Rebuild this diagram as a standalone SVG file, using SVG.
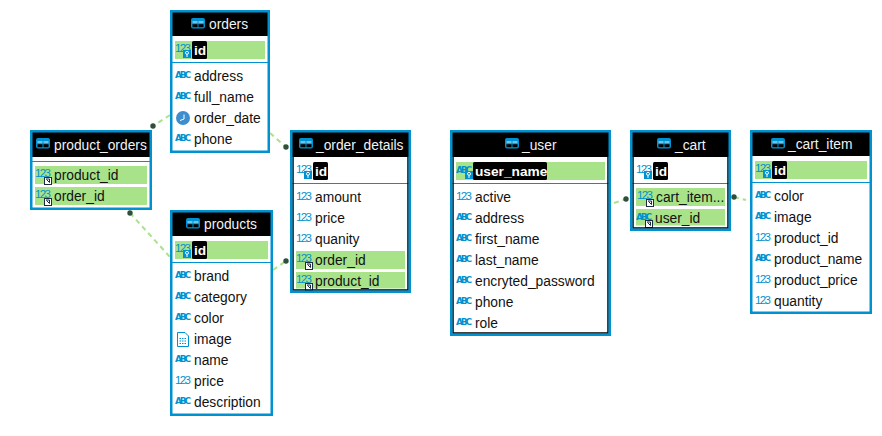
<svg xmlns="http://www.w3.org/2000/svg" width="882" height="436" viewBox="0 0 882 436">
<style>
text{font-family:"Liberation Sans",Arial,sans-serif;font-size:13.8px;fill:#111}
.bg{fill:#fff}
.hd{fill:#000}
.fr{fill:none;stroke:#0091d0;stroke-width:2.500}
.in{fill:none;stroke:#000;stroke-width:1.500}
.sep{stroke:#0091d0;stroke-width:1;fill:none}
.hl{fill:#a8e38a}
.chip{fill:#000}
.t{fill:#f2f2f2}
.k{fill:#fff;font-weight:bold;font-size:13.7px}
.n{fill:#0091d0;font-size:11.500px}
.a{fill:#0091d0;font-size:9px;font-weight:bold;font-family:"DejaVu Sans",sans-serif}
.cn{fill:none;stroke:#a8e38a;stroke-width:2;stroke-dasharray:5 4}
.dot{fill:#2f4f3a}
</style>
<defs>
<g id="tbl"><rect x="0" y="0" width="14" height="10.500" rx="2" fill="#0091d0"/><rect x="1.500" y="3" width="5" height="2.200" fill="#6cc4ea"/><rect x="7.500" y="3" width="5" height="2.200" fill="#6cc4ea"/><rect x="1.500" y="6.200" width="5" height="3" fill="#000"/><rect x="7.500" y="6.200" width="5" height="3" fill="#000"/></g>
<g id="pk"><rect x="0" y="0" width="8" height="8" fill="#0091d0"/><circle cx="4" cy="2.800" r="1.500" fill="none" stroke="#fff"/><path d="M4 4.300V7" stroke="#fff" fill="none"/></g>
<g id="fk"><rect x="0.500" y="0.500" width="7" height="7" fill="#fff" stroke="#1c2a44"/><path d="M2 2H5.500V5.500M5.500 5.500L2.500 2.500" fill="none" stroke="#1c2a44"/></g>
<g id="clock"><circle cx="7" cy="7" r="7" fill="#3d8ecf"/><path d="M8 3.500V8L4 9.500" fill="none" stroke="#fff"/></g>
<g id="file"><path d="M.5 .5H8L11.500 4V14.500H.5Z" fill="#fff" stroke="#0091d0"/><path d="M2.500 6.500h7M2.500 9h7M2.500 11.500h7" stroke="#0091d0" stroke-dasharray="1.500 1" fill="none"/></g>
</defs>

<g id="connectors">
<path class="cn" d="M170 115L153 126"/>
<path class="cn" d="M270 133L286 147"/>
<path class="cn" d="M130 213L170 257"/>
<path class="cn" d="M273 270L286 261"/>
<path class="cn" d="M614 203L626 199"/>
<path class="cn" d="M734 197L746 200"/>
<circle class="dot" cx="153" cy="126" r="2.700"/>
<circle class="dot" cx="286" cy="147" r="2.700"/>
<circle class="dot" cx="130" cy="213" r="2.700"/>
<circle class="dot" cx="286" cy="261" r="2.700"/>
<circle class="dot" cx="626" cy="199" r="2.700"/>
<circle class="dot" cx="734" cy="197" r="2.700"/>
</g>

<g id="orders">
<rect class="bg" x="170" y="10" width="100" height="143"/>
<rect class="hd" x="171" y="11" width="98" height="25"/>
<use href="#tbl" x="191" y="18"/>
<text class="t" x="209" y="29">orders</text>
<rect class="hl" x="175" y="41" width="90" height="18"/>
<text class="n" x="175" y="52" textLength="16">123</text>
<use href="#pk" x="183" y="50"/>
<rect class="chip" x="192" y="41" width="15" height="18" rx="1.500"/>
<text class="k" x="194" y="55">id</text>
<path class="sep" d="M171 62.500H269"/>
<text class="a" x="175" y="78" textLength="16">ABC</text><text x="194" y="81">address</text>
<text class="a" x="175" y="99" textLength="16">ABC</text><text x="194" y="102">full_name</text>
<use href="#clock" x="176" y="111"/><text x="194" y="123">order_date</text>
<text class="a" x="175" y="141" textLength="16">ABC</text><text x="194" y="144">phone</text>
<rect class="fr" x="171.250" y="11.250" width="97.500" height="140.500"/>
</g>

<g id="product_orders">
<rect class="bg" x="30" y="130" width="122" height="80"/>
<rect class="hd" x="31" y="131" width="120" height="26"/>
<use href="#tbl" x="36" y="138"/>
<text class="t" x="54" y="150">product_orders</text>
<path class="sep" d="M31 161.500H151"/>
<rect class="hl" x="35" y="166" width="112" height="18"/>
<text class="n" x="35" y="177" textLength="16">123</text>
<use href="#fk" x="44" y="177"/>
<text x="54" y="180">product_id</text>
<rect class="hl" x="35" y="187" width="112" height="18"/>
<text class="n" x="35" y="198" textLength="16">123</text>
<use href="#fk" x="44" y="198"/>
<text x="54" y="201">order_id</text>
<rect class="fr" x="31.250" y="131.250" width="119.500" height="77.500"/>
</g>

<g id="products">
<rect class="bg" x="170" y="210" width="103" height="206"/>
<rect class="hd" x="171" y="211" width="101" height="25"/>
<use href="#tbl" x="186" y="218"/>
<text class="t" x="204" y="229">products</text>
<rect class="hl" x="175" y="241" width="93" height="18"/>
<text class="n" x="175" y="252" textLength="16">123</text>
<use href="#pk" x="183" y="250"/>
<rect class="chip" x="192" y="241" width="15" height="18" rx="1.500"/>
<text class="k" x="194" y="255">id</text>
<path class="sep" d="M171 262.500H272"/>
<text class="a" x="175" y="278" textLength="16">ABC</text><text x="194" y="281">brand</text>
<text class="a" x="175" y="299" textLength="16">ABC</text><text x="194" y="302">category</text>
<text class="a" x="175" y="320" textLength="16">ABC</text><text x="194" y="323">color</text>
<use href="#file" x="177" y="332"/><text x="194" y="344">image</text>
<text class="a" x="175" y="362" textLength="16">ABC</text><text x="194" y="365">name</text>
<text class="n" x="175" y="384" textLength="16">123</text><text x="194" y="386">price</text>
<text class="a" x="175" y="404" textLength="16">ABC</text><text x="194" y="407">description</text>
<rect class="fr" x="171.250" y="211.250" width="100.500" height="203.500"/>
</g>

<g id="_order_details">
<rect class="bg" x="290" y="130" width="121" height="163"/>
<rect class="hd" x="291" y="131" width="119" height="26"/>
<use href="#tbl" x="299" y="138"/>
<text class="t" x="316" y="150">_order_details</text>
<text class="n" x="296" y="173" textLength="16">123</text>
<use href="#pk" x="304" y="171"/>
<rect class="chip" x="313" y="162" width="15" height="18" rx="1.500"/>
<text class="k" x="315" y="176">id</text>
<path class="sep" d="M292 183.500H409"/>
<text class="n" x="296" y="200" textLength="16">123</text><text x="315" y="202">amount</text>
<text class="n" x="296" y="221" textLength="16">123</text><text x="315" y="223">price</text>
<text class="n" x="296" y="242" textLength="16">123</text><text x="315" y="244">quanity</text>
<rect class="hl" x="296" y="251" width="109" height="18"/>
<text class="n" x="296" y="262" textLength="16">123</text><use href="#fk" x="305" y="262"/><text x="315" y="265">order_id</text>
<rect class="hl" x="296" y="272" width="109" height="16.500"/>
<text class="n" x="296" y="283" textLength="16">123</text><use href="#fk" x="305" y="283"/><text x="315" y="286">product_id</text>
<rect class="in" x="293" y="133" width="115" height="157"/>
<rect class="fr" x="291.250" y="131.250" width="118.500" height="160.500"/>
</g>

<g id="_user">
<rect class="bg" x="450" y="130" width="161" height="206"/>
<rect class="hd" x="451" y="131" width="159" height="26"/>
<use href="#tbl" x="505" y="138"/>
<text class="t" x="522" y="150">_user</text>
<rect class="hl" x="456" y="162" width="149" height="18"/>
<text class="a" x="456" y="173" textLength="16">ABC</text>
<use href="#pk" x="465" y="171"/>
<rect class="chip" x="473" y="162" width="74" height="18" rx="1.500"/>
<text class="k" x="475" y="176">user_name</text>
<path class="sep" d="M452 183.500H609"/>
<text class="n" x="456" y="200" textLength="16">123</text><text x="475" y="202">active</text>
<text class="a" x="456" y="220" textLength="16">ABC</text><text x="475" y="223">address</text>
<text class="a" x="456" y="241" textLength="16">ABC</text><text x="475" y="244">first_name</text>
<text class="a" x="456" y="262" textLength="16">ABC</text><text x="475" y="265">last_name</text>
<text class="a" x="456" y="283" textLength="16">ABC</text><text x="475" y="286">encryted_password</text>
<text class="a" x="456" y="304" textLength="16">ABC</text><text x="475" y="307">phone</text>
<text class="a" x="456" y="325" textLength="16">ABC</text><text x="475" y="328">role</text>
<rect class="in" x="453" y="133" width="155" height="200"/>
<rect class="fr" x="451.250" y="131.250" width="158.500" height="203.500"/>
</g>

<g id="_cart">
<rect class="bg" x="630" y="130" width="101" height="101"/>
<rect class="hd" x="631" y="131" width="99" height="26"/>
<use href="#tbl" x="657" y="138"/>
<text class="t" x="675" y="150">_cart</text>
<text class="n" x="636" y="173" textLength="16">123</text>
<use href="#pk" x="644" y="171"/>
<rect class="chip" x="653" y="162" width="15" height="18" rx="1.500"/>
<text class="k" x="655" y="176">id</text>
<path class="sep" d="M632 183.500H729"/>
<rect class="hl" x="636" y="188" width="89" height="18"/>
<text class="n" x="637" y="199" textLength="16">123</text><use href="#fk" x="646" y="199"/><text x="656" y="202">cart_item...</text>
<rect class="hl" x="636" y="209" width="89" height="16.500"/>
<text class="a" x="636" y="220" textLength="16">ABC</text><use href="#fk" x="645" y="220"/><text x="655" y="223">user_id</text>
<rect class="in" x="633" y="133" width="95" height="95"/>
<rect class="fr" x="631.250" y="131.250" width="98.500" height="98.500"/>
</g>

<g id="_cart_item">
<rect class="bg" x="750" y="130" width="122" height="184"/>
<rect class="hd" x="751" y="131" width="120" height="25"/>
<use href="#tbl" x="771" y="138"/>
<text class="t" x="788" y="149">_cart_item</text>
<rect class="hl" x="755" y="161" width="112" height="18"/>
<text class="n" x="755" y="172" textLength="16">123</text>
<use href="#pk" x="763" y="170"/>
<rect class="chip" x="772" y="161" width="15" height="18" rx="1.500"/>
<text class="k" x="774" y="175">id</text>
<path class="sep" d="M751 182.500H871"/>
<text class="a" x="755" y="198" textLength="16">ABC</text><text x="774" y="201">color</text>
<text class="a" x="755" y="219" textLength="16">ABC</text><text x="774" y="222">image</text>
<text class="n" x="755" y="241" textLength="16">123</text><text x="774" y="243">product_id</text>
<text class="a" x="755" y="261" textLength="16">ABC</text><text x="774" y="264">product_name</text>
<text class="n" x="755" y="283" textLength="16">123</text><text x="774" y="285">product_price</text>
<text class="n" x="755" y="304" textLength="16">123</text><text x="774" y="306">quantity</text>
<rect class="fr" x="751.250" y="131.250" width="119.500" height="181.500"/>
</g>
</svg>
